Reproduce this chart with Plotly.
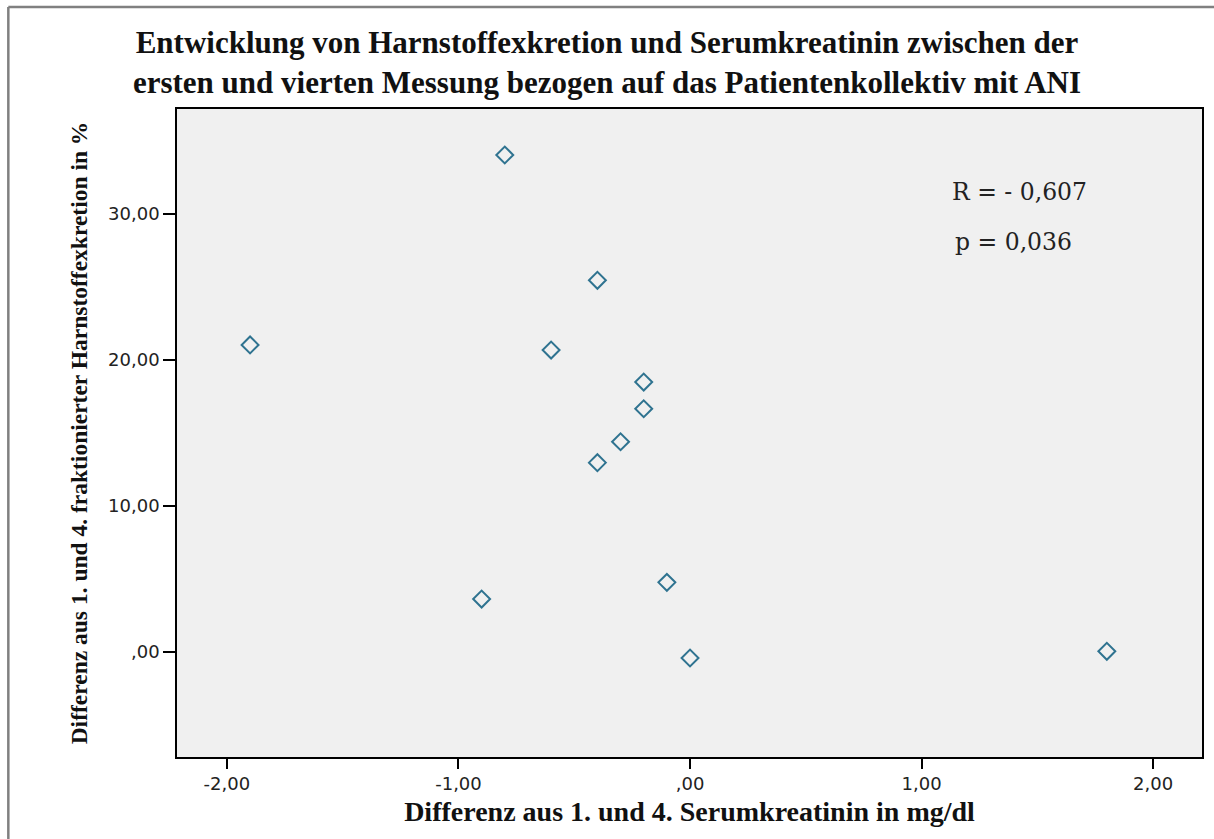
import plotly.graph_objects as go

# Differences between 1st and 4th measurement (patients with ANI)
kreatinin_diff = [-0.8, -0.4, -1.9, -0.6, -0.2, -0.2, -0.3, -0.4, -0.1, -0.9, 0.0, 1.8]
harnstoff_diff = [34.04, 25.46, 21.03, 20.68, 18.49, 16.66, 14.40, 12.97, 4.77, 3.63, -0.41, 0.05]

x_tickvals = [-2, -1, 0, 1, 2]
x_ticktext = ["-2,00", "-1,00", ",00", "1,00", "2,00"]
y_tickvals = [0, 10, 20, 30]
y_ticktext = [",00", "10,00", "20,00", "30,00"]

title_lines = [
    "Entwicklung von Harnstoffexkretion und Serumkreatinin zwischen der",
    "ersten und vierten Messung bezogen auf das Patientenkollektiv mit ANI",
]
stats_text = ["R = - 0,607", "p = 0,036"]

W, H = 1214, 839
ML, MR, MT, MB = 177, 10, 109, 82
pw, ph = W - ML - MR, H - MT - MB

def px_to_paper_x(px):
    return (px - ML) / pw

def px_to_paper_y(py):
    return (H - MB - py) / ph

fig = go.Figure()
fig.add_trace(go.Scatter(
    x=kreatinin_diff, y=harnstoff_diff, mode="markers",
    marker=dict(symbol="diamond-open", size=13, color="#2f7390",
                line=dict(width=2, color="#2f7390")),
    showlegend=False, hoverinfo="x+y",
))

serif = "Liberation Serif"
sans = "DejaVu Sans"

fig.update_layout(
    width=W, height=H,
    margin=dict(l=ML, r=MR, t=MT, b=MB),
    paper_bgcolor="white",
    plot_bgcolor="#f0f0f0",
    title=dict(
        text="<b>" + "<br>".join(title_lines) + "</b>",
        x=0.5, xanchor="center", xref="container",
        y=1 - 53 / H, yanchor="middle", yref="container",
        font=dict(family=serif, size=31, color="#111111"),
    ),
    xaxis=dict(
        range=[-2.2155, 2.211], tickvals=x_tickvals, ticktext=x_ticktext,
        showgrid=False, zeroline=False, showline=True, linecolor="black",
        linewidth=1.5, mirror=True, ticks="outside", ticklen=10,
        tickcolor="black", tickwidth=1.5,
        tickfont=dict(family=sans, size=18, color="#222222"),
        title=dict(text="<b>Differenz aus 1. und 4. Serumkreatinin in mg/dl</b>",
                   font=dict(family=serif, size=28, color="#111111"), standoff=8),
    ),
    yaxis=dict(
        range=[-7.19, 37.19], tickvals=y_tickvals, ticktext=y_ticktext,
        showgrid=False, zeroline=False, showline=True, linecolor="black",
        linewidth=1.5, mirror=True, ticks="outside", ticklen=12,
        tickcolor="black", tickwidth=1.5,
        tickfont=dict(family=sans, size=18, color="#222222"),
        title=dict(text="<b>Differenz aus 1. und 4. fraktionierter Harnstoffexkretion in %</b>",
                   font=dict(family=serif, size=23.5, color="#111111"), standoff=14),
    ),
)

fig.add_annotation(x=px_to_paper_x(952), y=px_to_paper_y(192), xref="paper", yref="paper",
                   text=stats_text[0], showarrow=False, xanchor="left", yanchor="middle",
                   font=dict(family="DejaVu Serif", size=23.5, color="#222222"))
fig.add_annotation(x=px_to_paper_x(955), y=px_to_paper_y(242), xref="paper", yref="paper",
                   text=stats_text[1], showarrow=False, xanchor="left", yanchor="middle",
                   font=dict(family="DejaVu Serif", size=23.5, color="#222222"))

# Grey frame lines along the top and left edge
frame = dict(color="#808080", width=2.5)
fig.add_shape(type="line", xref="paper", yref="paper",
              x0=px_to_paper_x(8), x1=px_to_paper_x(1220),
              y0=px_to_paper_y(7), y1=px_to_paper_y(7), line=frame, layer="below")
fig.add_shape(type="line", xref="paper", yref="paper",
              x0=px_to_paper_x(8), x1=px_to_paper_x(8),
              y0=px_to_paper_y(7), y1=px_to_paper_y(850), line=frame, layer="below")

fig.write_html("out.html")
